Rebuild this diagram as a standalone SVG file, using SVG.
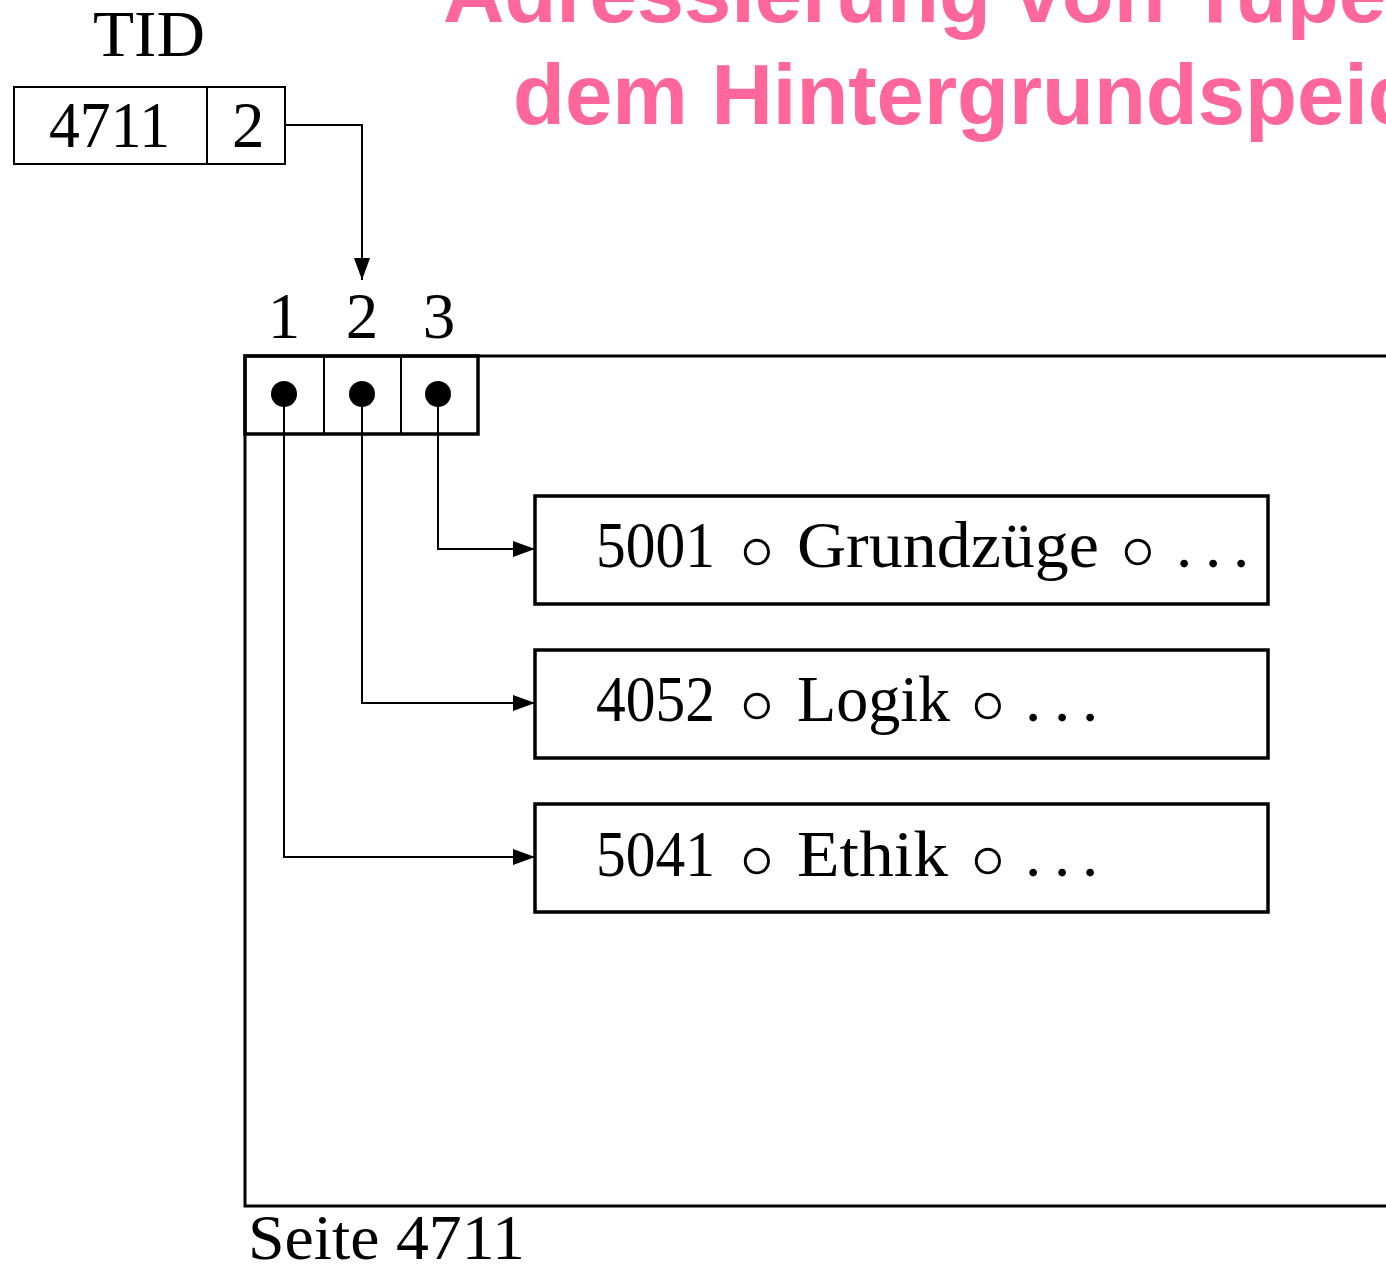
<svg xmlns="http://www.w3.org/2000/svg" width="1386" height="1272" viewBox="0 0 1386 1272">
  <style>
    .serif { font-family: "Liberation Serif", "DejaVu Serif", serif; fill: #000; }
    .t64 { font-size: 65px; }
    .op { font-family: "DejaVu Sans", "Liberation Serif", sans-serif; font-size: 95px; fill: #000; stroke: #fff; stroke-width: 3; text-anchor: middle; }
    .dot { text-anchor: middle; }
    .title { font-family: "Liberation Sans", Arial, sans-serif; font-weight: bold; font-size: 85px; fill: #FF6699; }
    .box { fill: none; stroke: #000; stroke-width: 3.5; }
    .thin { fill: none; stroke: #000; stroke-width: 2; }
    .conn { fill: none; stroke: #000; stroke-width: 2; }
  </style>
  <defs>
    <marker id="arr" markerUnits="userSpaceOnUse" markerWidth="22" markerHeight="16" refX="22" refY="8" orient="auto">
      <path d="M0,0 L22,8 L0,16 z" fill="#000"/>
    </marker>
  </defs>
  <rect width="1386" height="1272" fill="#fff"/>

  <g id="title">
    <text class="title" x="443" y="22">Adressierung von Tupe</text>
    <text class="title" x="513" y="124">dem Hintergrundspeic</text>
  </g>

  <g id="tid">
    <text class="serif t64" x="93" y="56" textLength="112" lengthAdjust="spacingAndGlyphs">TID</text>
    <rect class="thin" x="14" y="87" width="271" height="77"/>
    <line class="thin" x1="207" y1="87" x2="207" y2="164"/>
    <text class="serif t64" x="49" y="147" textLength="121" lengthAdjust="spacingAndGlyphs">4711</text>
    <text class="serif t64" x="232" y="147">2</text>
  </g>

  <g id="page">
    <path d="M1386,356 H245 V1206 H1386" fill="none" stroke="#000" stroke-width="3"/>
    <text class="serif" font-size="63" x="248" y="1259" textLength="277" lengthAdjust="spacingAndGlyphs">Seite 4711</text>
  </g>

  <g id="slots">
    <text class="serif t64" x="284" y="338" text-anchor="middle">1</text>
    <text class="serif t64" x="362" y="338" text-anchor="middle">2</text>
    <text class="serif t64" x="439" y="338" text-anchor="middle">3</text>
    <rect class="box" x="245" y="356" width="233" height="78" stroke-width="3"/>
    <line class="thin" x1="324" y1="356" x2="324" y2="434"/>
    <line class="thin" x1="401" y1="356" x2="401" y2="434"/>
    <circle cx="284" cy="394" r="13" fill="#000"/>
    <circle cx="362" cy="394" r="13" fill="#000"/>
    <circle cx="438" cy="394" r="13" fill="#000"/>
  </g>

  <g id="record1">
    <rect class="box" x="535" y="496" width="733" height="108"/>
    <text class="serif t64" x="596" y="567" textLength="119" lengthAdjust="spacingAndGlyphs">5001</text>
    <text class="op" x="757" y="582">∘</text>
    <text class="serif t64" x="797" y="567" textLength="302" lengthAdjust="spacingAndGlyphs">Grundzüge</text>
    <text class="op" x="1138" y="582">∘</text>
    <text class="serif t64 dot" y="567"><tspan x="1184">.</tspan><tspan x="1213">.</tspan><tspan x="1241">.</tspan></text>
  </g>

  <g id="record2">
    <rect class="box" x="535" y="650" width="733" height="108"/>
    <text class="serif t64" x="596" y="721" textLength="119" lengthAdjust="spacingAndGlyphs">4052</text>
    <text class="op" x="757" y="736">∘</text>
    <text class="serif t64" x="797" y="721" textLength="153" lengthAdjust="spacingAndGlyphs">Logik</text>
    <text class="op" x="988" y="736">∘</text>
    <text class="serif t64 dot" y="721"><tspan x="1033">.</tspan><tspan x="1062">.</tspan><tspan x="1090">.</tspan></text>
  </g>

  <g id="record3">
    <rect class="box" x="535" y="804" width="733" height="108"/>
    <text class="serif t64" x="596" y="876" textLength="119" lengthAdjust="spacingAndGlyphs">5041</text>
    <text class="op" x="757" y="891">∘</text>
    <text class="serif t64" x="797" y="876" textLength="151" lengthAdjust="spacingAndGlyphs">Ethik</text>
    <text class="op" x="988" y="891">∘</text>
    <text class="serif t64 dot" y="876"><tspan x="1033">.</tspan><tspan x="1062">.</tspan><tspan x="1090">.</tspan></text>
  </g>

  <g id="connectors">
    <path class="conn" d="M285,125 H362 V280" marker-end="url(#arr)"/>
    <path class="conn" d="M438,394 V549 H535" marker-end="url(#arr)"/>
    <path class="conn" d="M362,394 V703 H535" marker-end="url(#arr)"/>
    <path class="conn" d="M284,394 V857 H535" marker-end="url(#arr)"/>
  </g>
</svg>
